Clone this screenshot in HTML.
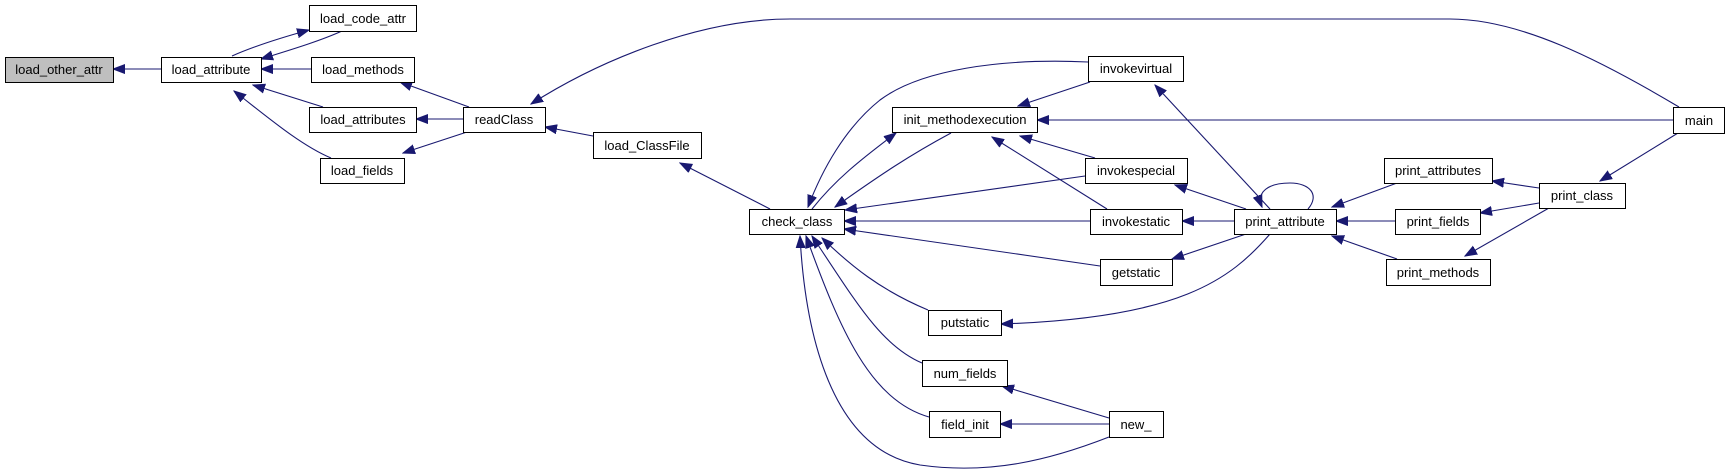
<!DOCTYPE html>
<html><head><meta charset="utf-8"><style>
html,body{margin:0;padding:0;background:#fff;}
svg{display:block;}
text{font-family:"Liberation Sans",sans-serif;font-size:13px;fill:#000;}
</style></head><body>
<svg width="1729" height="476" viewBox="0 0 1729 476" xmlns="http://www.w3.org/2000/svg">
<defs>
<marker id="a" markerUnits="userSpaceOnUse" markerWidth="13" markerHeight="11" refX="12" refY="5" orient="auto">
<path d="M0,0.5 L12,5 L0,9.5 z" fill="#191970" stroke="#191970"/>
</marker>
</defs>
<g fill="none" stroke="#191970" stroke-width="1.1" marker-end="url(#a)">
<path d="M161,69 L113,69"/>
<path d="M232,56 C250,48 280,38 309,30"/>
<path d="M342,31 C320,41 290,50 261,59"/>
<path d="M311,69 L261,69"/>
<path d="M323,107 L253,85"/>
<path d="M331,158 C300,145 265,115 234,91"/>
<path d="M469,107 L400,82"/>
<path d="M463,119 L416,119"/>
<path d="M467,132 L403,153"/>
<path d="M1679,107 C1600,60 1520,19 1450,19 L790,19 C700,19 600,60 531,104"/>
<path d="M593,136 L545,127"/>
<path d="M770,209 L680,163"/>
<path d="M1088,62 C1000,58 920,70 880,100 C845,128 822,170 808,207"/>
<path d="M812,209 C835,180 860,160 896,133"/>
<path d="M951,133 C910,155 880,175 835,207"/>
<path d="M1090,82 L1018,106"/>
<path d="M1673,120 L1037,120"/>
<path d="M1095,158 L1020,136"/>
<path d="M1107,209 L992,137"/>
<path d="M1085,176 L845,210"/>
<path d="M1090,221 L844,221"/>
<path d="M1100,266 L844,229"/>
<path d="M928,310 C880,290 850,265 822,238"/>
<path d="M922,363 C880,345 855,300 812,236"/>
<path d="M929,417 C870,400 840,330 806,236"/>
<path d="M1109,437 C1050,460 990,475 920,465 C830,450 805,330 800,236"/>
<path d="M1109,418 L1002,386"/>
<path d="M1109,424 L1000,424"/>
<path d="M1270,209 L1155,85"/>
<path d="M1246,209 L1175,185"/>
<path d="M1234,221 L1182,221"/>
<path d="M1246,234 L1172,259"/>
<path d="M1270,234 C1230,280 1180,318 1001,324"/>
<path d="M1308,209 C1320,195 1310,183 1290,183 C1268,183 1256,192 1262,207"/>
<path d="M1397,183 L1332,207"/>
<path d="M1395,221 L1336,221"/>
<path d="M1397,259 L1332,236"/>
<path d="M1539,188 L1492,181"/>
<path d="M1539,203 L1480,213"/>
<path d="M1549,208 L1465,256"/>
<path d="M1678,133 L1600,181"/>
</g>
<g stroke="#000" stroke-width="1" fill="#fff">
<rect x="5.5" y="57.5" width="108" height="25" fill="#bfbfbf"/>
<rect x="161.5" y="57.5" width="100" height="25"/>
<rect x="309.5" y="5.5" width="107" height="26"/>
<rect x="311.5" y="57.5" width="103" height="25"/>
<rect x="309.5" y="107.5" width="107" height="25"/>
<rect x="320.5" y="158.5" width="84" height="25"/>
<rect x="463.5" y="107.5" width="82" height="25"/>
<rect x="593.5" y="132.5" width="108" height="26"/>
<rect x="749.5" y="209.5" width="95" height="25"/>
<rect x="892.5" y="107.5" width="145" height="25"/>
<rect x="1088.5" y="56.5" width="95" height="25"/>
<rect x="1085.5" y="158.5" width="102" height="25"/>
<rect x="1090.5" y="209.5" width="92" height="25"/>
<rect x="1100.5" y="259.5" width="72" height="26"/>
<rect x="928.5" y="310.5" width="73" height="25"/>
<rect x="922.5" y="360.5" width="85" height="26"/>
<rect x="929.5" y="411.5" width="71" height="26"/>
<rect x="1109.5" y="411.5" width="54" height="26"/>
<rect x="1234.5" y="209.5" width="102" height="25"/>
<rect x="1384.5" y="158.5" width="108" height="25"/>
<rect x="1395.5" y="209.5" width="85" height="25"/>
<rect x="1386.5" y="259.5" width="104" height="26"/>
<rect x="1539.5" y="183.5" width="86" height="25"/>
<rect x="1673.5" y="107.5" width="51" height="26"/>
</g>
<g text-anchor="middle">
<text x="59" y="74">load_other_attr</text>
<text x="211" y="74">load_attribute</text>
<text x="363" y="23">load_code_attr</text>
<text x="363" y="74">load_methods</text>
<text x="363" y="124">load_attributes</text>
<text x="362" y="175">load_fields</text>
<text x="504" y="124">readClass</text>
<text x="647" y="150">load_ClassFile</text>
<text x="797" y="226">check_class</text>
<text x="965" y="124">init_methodexecution</text>
<text x="1136" y="73">invokevirtual</text>
<text x="1136" y="175">invokespecial</text>
<text x="1136" y="226">invokestatic</text>
<text x="1136" y="277">getstatic</text>
<text x="965" y="327">putstatic</text>
<text x="965" y="378">num_fields</text>
<text x="965" y="429">field_init</text>
<text x="1136" y="429">new_</text>
<text x="1285" y="226">print_attribute</text>
<text x="1438" y="175">print_attributes</text>
<text x="1438" y="226">print_fields</text>
<text x="1438" y="277">print_methods</text>
<text x="1582" y="200">print_class</text>
<text x="1699" y="125">main</text>
</g>
</svg>
</body></html>
